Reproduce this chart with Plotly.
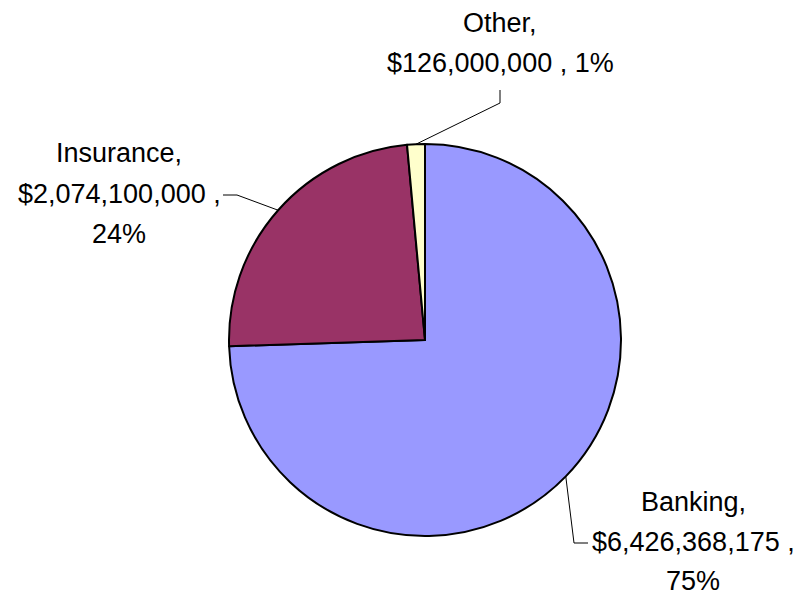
import math
import plotly.graph_objects as go

# Data
categories = ["Banking", "Insurance", "Other"]
values = [6426368175, 2074100000, 126000000]
colors = ["#9999FF", "#993366", "#FFFFCC"]

# page has an 8px body margin: the figure is drawn 8px in from the corner
OFF = 8
W, H = 805 - 2 * OFF, 595 - OFF
cx, cy, r = 425, 340, 196  # pie centre/radius in screen pixels

def px(x):
    return (x - OFF) / W

def py(y):
    return 1 - (y - OFF) / H

total = sum(values)
pcts = [v / total for v in values]

# largest-remainder rounding of percentages (so they sum to 100, like Excel)
raw = [p * 100 for p in pcts]
flo = [math.floor(v) for v in raw]
rem = 100 - sum(flo)
order = sorted(range(len(raw)), key=lambda i: raw[i] - flo[i], reverse=True)
for i in order[:rem]:
    flo[i] += 1
pct_int = flo

fig = go.Figure(go.Pie(
    labels=categories, values=values, sort=False, direction="clockwise",
    rotation=0, textinfo="none", hoverinfo="label+value+percent",
    marker=dict(colors=colors, line=dict(color="black", width=2)),
    domain=dict(x=[px(cx - r), px(cx + r)], y=[py(cy + r), py(cy - r)]),
    showlegend=False,
))

font = dict(family="Liberation Sans, Arial, sans-serif", size=27, color="black")

def lines_for(i):
    name = f"{categories[i]},"
    money = f"${values[i]:,} ,"
    pct = f"{pct_int[i]}%"
    return name, money, pct

label_layout = {
    "Other": dict(x=500, ys=[23, 63], group=lambda n, m, p: [n, f"{m} {p}"]),
    "Insurance": dict(x=119, ys=[153, 194, 234], group=lambda n, m, p: [n, m, p]),
    "Banking": dict(x=693, ys=[502, 542, 581], group=lambda n, m, p: [n, m, p]),
}

annotations = []
for i, cat in enumerate(categories):
    cfg = label_layout[cat]
    texts = cfg["group"](*lines_for(i))
    for t, yy in zip(texts, cfg["ys"]):
        annotations.append(dict(x=px(cfg["x"]), y=py(yy), xref="paper", yref="paper",
                                text=t, showarrow=False, font=font,
                                xanchor="center", yanchor="middle"))

# leader lines: from slice mid-angle on pie edge to label
cum = 0
mids = []
for p in pcts:
    mids.append((cum + p / 2) * 2 * math.pi)
    cum += p

def edge(a):
    return cx + r * math.sin(a), cy - r * math.cos(a)

leader_ends = {
    "Other": [(500, 103), (500, 90)],
    "Insurance": [(237, 195), (223, 195)],
    "Banking": [(574, 543), (588, 543)],
}

shapes = []
for i, cat in enumerate(categories):
    pts = [edge(mids[i])] + leader_ends[cat]
    path = "M " + " L ".join(f"{px(x)},{py(y)}" for x, y in pts)
    shapes.append(dict(type="path", path=path, xref="paper", yref="paper",
                       line=dict(color="black", width=1)))

fig.update_layout(
    width=W, height=H, margin=dict(l=0, r=0, t=0, b=0),
    paper_bgcolor="white", plot_bgcolor="white",
    annotations=annotations, shapes=shapes,
)

fig.write_html("out.html")
